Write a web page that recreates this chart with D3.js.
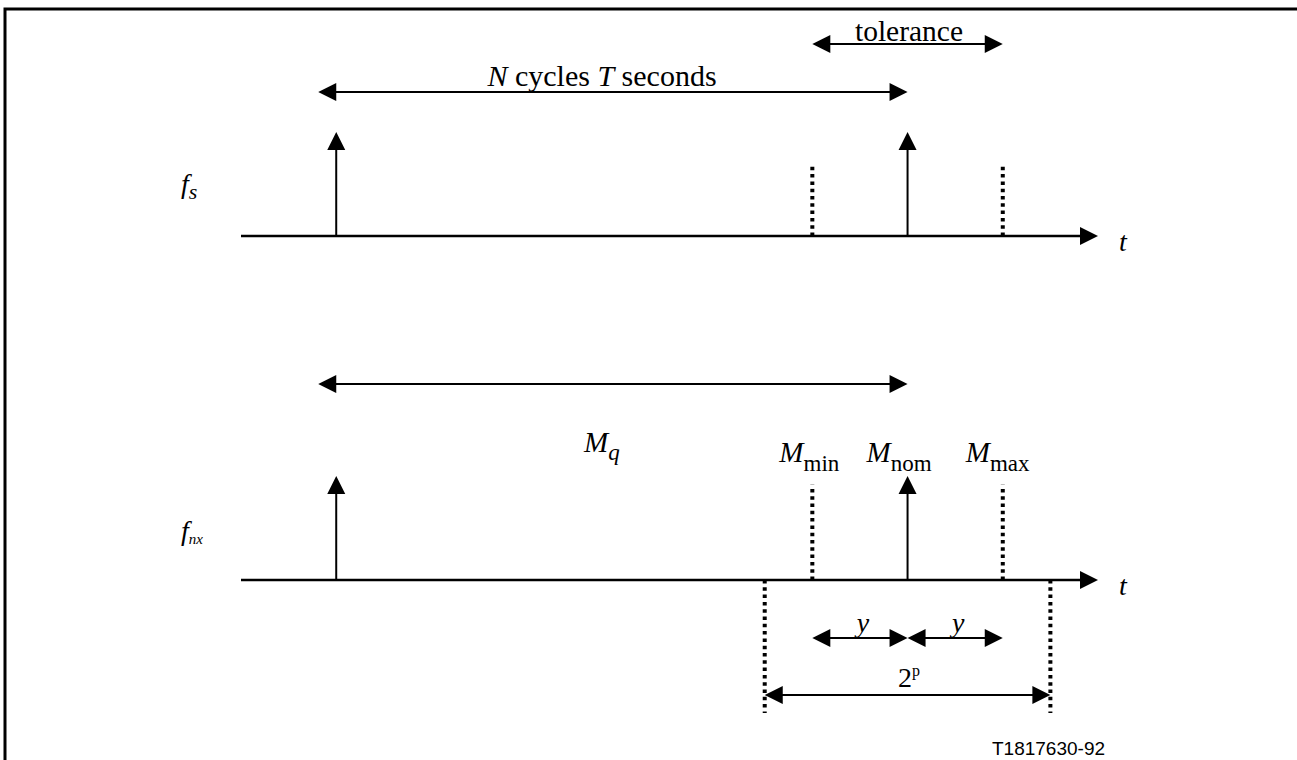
<!DOCTYPE html>
<html><head><meta charset="utf-8">
<script src="https://cdn.jsdelivr.net/npm/d3@7"></script>
<style>html,body{margin:0;padding:0;background:#fff;}svg{display:block;}
.serif{font-family:"Liberation Serif","Times New Roman",serif;}
.sans{font-family:"Liberation Sans",Arial,sans-serif;}
</style>
</head><body>
<script>
// ---- data (time units: one pulse period = 6 units) ----
const timeDomain = [-1, 8];
const pulseTimes = [0, 6];            // pulses on both rows
const toleranceTimes = [5, 7];        // dotted tolerance / Mmin, Mmax
const windowTimes = [4.5, 7.5];       // 2^p window
const rowLabels = [{main:"f", sub:"s"}, {main:"f", sub:"nx"}];
const markerTimes = [5, 6, 7];
const markerSubs = ["min", "nom", "max"];
const yArrows = [[5, 6], [6, 7]];

const W = 1297, H = 760;
const svg = d3.select("body").append("svg").attr("width", W).attr("height", H);
const x = d3.scaleLinear().domain(timeDomain).range([241, 1098]);
const rowY = d3.scalePoint().domain([0, 1]).range([236, 580]);
const amp = d3.scaleLinear().domain([0, 1]).range([0, 104]);

// frame
svg.append("path").attr("d", `M5,${H} V9 H${W}`).attr("fill", "none").attr("stroke", "#000").attr("stroke-width", 3);

function head(g, px, py, dir, len = 18, hw = 9) {
  let pts;
  if (dir === "right") pts = [[px, py], [px - len, py - hw], [px - len, py + hw]];
  else if (dir === "left") pts = [[px, py], [px + len, py - hw], [px + len, py + hw]];
  else pts = [[px, py], [px - hw, py + len], [px + hw, py + len]];
  g.append("polygon").attr("points", pts.map(p => p.join(",")).join(" ")).attr("fill", "#000");
}
function dblArrow(g, x1, x2, y) {
  g.append("line").attr("x1", x1 + 10).attr("x2", x2 - 10).attr("y1", y).attr("y2", y)
    .attr("stroke", "#000").attr("stroke-width", 2);
  head(g, x1, y, "left");
  head(g, x2, y, "right");
}
function stxt(g, xx, yy, size) {
  return g.append("text").attr("class", "serif").attr("x", xx).attr("y", yy).attr("font-size", size);
}

const g = svg.append("g");

[0, 1].forEach(r => {
  const y0 = rowY(r);
  g.append("line").attr("x1", x(timeDomain[0])).attr("x2", x(timeDomain[1]) - 10)
    .attr("y1", y0).attr("y2", y0).attr("stroke", "#000").attr("stroke-width", 2.5);
  head(g, x(timeDomain[1]), y0, "right", 18, 9);
  stxt(g, 1119, y0 + 15, 28).attr("font-style", "italic").text("t");
  pulseTimes.forEach(t => {
    g.append("line").attr("x1", x(t)).attr("x2", x(t)).attr("y1", y0).attr("y2", y0 - amp(1) + 10)
      .attr("stroke", "#000").attr("stroke-width", 2);
    head(g, x(t), y0 - amp(1), "up", 18, 9);
  });
  const dh = r === 0 ? 0.69 : 0.915;
  toleranceTimes.forEach(t => {
    g.append("line").attr("x1", x(t)).attr("x2", x(t)).attr("y1", y0).attr("y2", y0 - amp(dh))
      .attr("stroke", "#000").attr("stroke-width", 4).attr("stroke-dasharray", "3.5,3.8");
  });
  const lab = rowLabels[r];
  const tx = stxt(g, 181, r === 0 ? 193 : 540, 28).attr("font-style", "italic");
  tx.append("tspan").text(lab.main);
  tx.append("tspan").attr("dy", r === 0 ? 6 : 4).attr("font-size", r === 0 ? 22 : 15).text(lab.sub);
});

// top annotations
dblArrow(g, x(pulseTimes[0]) - 18, x(pulseTimes[1]), 92);
const nt = stxt(g, 602, 86, 30).attr("text-anchor", "middle");
nt.append("tspan").attr("font-style", "italic").text("N");
nt.append("tspan").text(" cycles ");
nt.append("tspan").attr("font-style", "italic").text("T");
nt.append("tspan").text(" seconds");

dblArrow(g, x(toleranceTimes[0]), x(toleranceTimes[1]), 44);
stxt(g, 909, 41, 29.5).attr("text-anchor", "middle").text("tolerance");

// bottom annotations
dblArrow(g, x(pulseTimes[0]) - 18, x(pulseTimes[1]), 384);
const mq = stxt(g, 584, 452, 29).attr("font-style", "italic");
mq.append("tspan").text("M");
mq.append("tspan").attr("dy", 8).attr("font-size", 23).text("q");

const labelShift = [-33, -41, -37];
markerTimes.forEach((t, i) => {
  const tx = stxt(g, x(t) + labelShift[i], 462, 29);
  tx.append("tspan").attr("font-style", "italic").text("M");
  tx.append("tspan").attr("dy", 9).attr("font-size", 23).text(markerSubs[i]);
});

yArrows.forEach(([a, b]) => {
  dblArrow(g, x(a), x(b), 638);
  stxt(g, (x(a) + x(b)) / 2 + 3, 632, 28).attr("text-anchor", "middle")
    .attr("font-style", "italic").text("y");
});

// 2^p window
windowTimes.forEach(t => {
  g.append("line").attr("x1", x(t)).attr("x2", x(t)).attr("y1", rowY(1)).attr("y2", 713)
    .attr("stroke", "#000").attr("stroke-width", 4).attr("stroke-dasharray", "3.5,3.8");
});
dblArrow(g, x(windowTimes[0]), x(windowTimes[1]), 695);
const tp = stxt(g, 898, 687, 28);
tp.append("tspan").text("2");
tp.append("tspan").attr("dy", -11).attr("font-size", 16).text("p");

g.append("text").attr("class", "sans").attr("x", 992).attr("y", 755)
  .attr("font-size", 19).text("T1817630-92");
</script>
</body></html>
